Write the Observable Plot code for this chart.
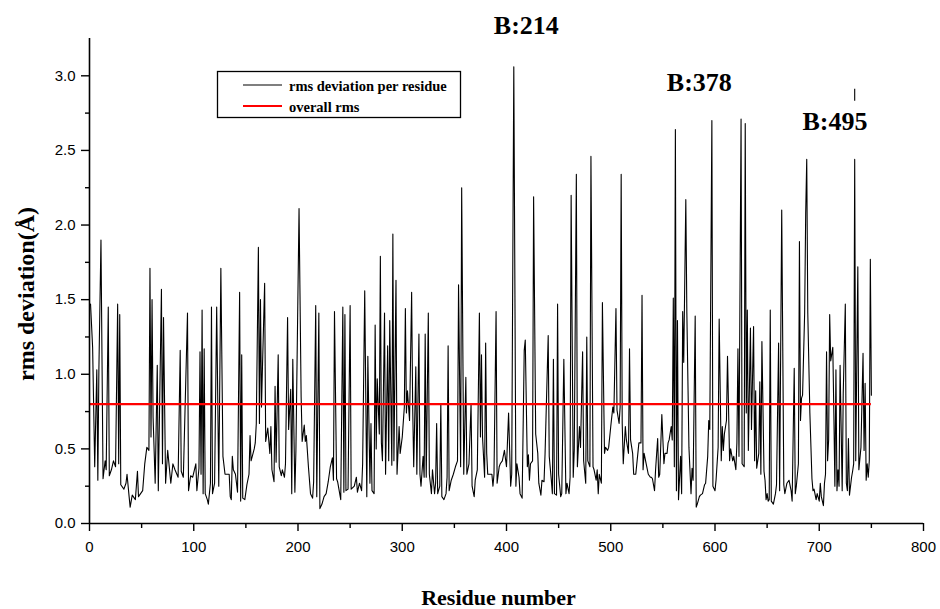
<!DOCTYPE html>
<html>
<head>
<meta charset="utf-8">
<script src="https://cdn.jsdelivr.net/npm/d3@7"></script>
<script src="https://cdn.jsdelivr.net/npm/@observablehq/plot@0.6"></script>
<style>body{margin:0;background:#fff;}</style>
</head>
<body>
<div id="chart"></div>
<script>
// ---- data ----
const residue = [
1,3,5,7,8,9,11,13,15,16,18,19,21,23,25,27,28,29,30,33,35,36,38,39,41,44,46,47,51,53,55,57,58,59,60,61,63,65,66,69,70,71,73,75,78,80,82,85,87,88,90,94,95,97,99,102,103,105,106,107,108,109,110,111,113,114,116,117,118,120,122,124,126,128,130,134,135,
136,137,138,140,142,144,145,146,147,149,151,153,154,155,158,159,160,162,163,164,165,166,168,169,171,173,174,175,177,178,179,181,182,184,185,187,188,190,191,193,194,195,197,198,201,203,204,206,207,208,210,212,214,215,217,218,220,221,223,225,227,229,231,233,234,235,237,238,241,243,244,245,246,248,250,251,254,256,257,259,261,262,264,
266,267,269,270,271,273,274,275,276,278,279,280,281,283,284,286,287,288,290,291,292,294,295,297,298,300,302,303,304,305,307,309,310,311,313,314,316,317,318,320,321,322,323,325,326,328,329,331,332,333,334,336,337,338,340,342,343,344,345,347,349,351,353,354,356,357,359,361,362,364,366,367,369,370,372,374,375,376,377,379,380,381,382,384,386,387,388,390,391,393,394,396,398,400,402,
404,405,407,409,410,412,413,415,417,418,420,421,422,423,425,426,428,430,431,433,434,436,437,440,441,443,444,445,446,448,449,450,452,453,455,457,458,460,461,462,464,465,467,468,470,471,473,474,476,477,478,480,481,483,484,486,487,488,489,491,492,494,495,497,498,500,502,503,505,506,508,509,510,511,512,514,515,517,518,519,521,522,524,526,527,529,530,531,532,534,536,538,
539,540,542,543,545,546,547,549,551,552,554,555,556,558,559,560,561,562,563,564,565,567,568,569,570,572,573,575,577,578,579,581,582,583,585,586,588,590,591,593,594,595,597,598,600,601,603,604,606,607,608,609,611,612,614,615,617,618,620,621,622,623,625,626,628,629,630,631,632,634,635,637,638,639,640,642,643,644,645,647,648,649,650,651,652,653,654,656,658,659,661,662,664,666,667,
669,671,673,674,676,677,678,680,681,682,683,684,686,687,688,689,691,693,694,695,697,698,700,701,702,704,705,706,707,708,709,710,711,713,714,715,716,717,718,719,720,722,723,725,726,727,728,729,731,732,733,734,735,737,738,740,742,743,744,745,746,747,748,749,750
];
const rmsd = [
1.47,1.18,0.38,1.03,0.29,1.03,1.90,0.30,0.42,0.36,1.45,0.32,0.36,0.42,0.38,1.47,0.40,1.40,0.26,0.23,0.27,0.33,0.18,0.11,0.19,0.16,0.35,0.18,0.22,0.40,0.51,0.49,1.71,0.58,1.50,0.71,0.27,1.06,0.22,1.57,0.40,1.38,0.27,0.49,0.27,0.40,0.36,0.31,1.16,0.35,0.31,1.41,0.22,0.32,0.31,0.40,0.22,0.37,1.15,0.33,1.43,0.20,1.17,0.20,0.16,0.13,0.27,1.45,0.20,0.27,1.45,0.25,1.71,0.45,0.33,0.33,0.18,
0.16,0.45,0.36,0.33,0.21,1.55,0.15,1.13,0.17,0.16,0.26,0.33,0.59,0.42,0.50,0.54,0.67,1.85,0.67,1.50,0.78,1.07,1.61,0.55,0.64,0.47,0.65,0.36,0.28,0.92,0.41,1.13,0.38,0.32,0.36,0.31,0.40,1.38,0.63,0.90,0.20,1.10,0.21,0.49,2.11,0.85,0.55,0.66,0.55,0.59,0.38,0.20,0.17,0.28,1.46,0.18,1.41,0.10,0.13,0.18,0.20,0.28,0.38,0.44,0.29,1.42,0.30,0.28,0.16,1.45,0.21,1.40,0.22,0.23,1.46,0.23,0.25,0.31,0.21,0.27,0.22,0.40,1.56,
0.18,1.12,0.27,0.67,0.22,0.20,1.33,0.50,0.97,0.60,1.79,0.54,0.42,1.41,0.33,1.19,0.42,1.36,0.39,1.94,0.42,1.63,0.33,0.65,0.47,0.58,0.78,1.44,0.74,0.89,0.69,1.55,0.78,0.38,1.05,0.33,1.27,0.33,0.25,0.45,0.31,1.27,0.31,1.41,0.33,0.20,0.36,0.20,0.27,0.67,0.20,0.25,0.80,0.18,0.16,0.20,0.31,1.19,0.22,0.29,0.33,0.38,0.42,1.60,0.38,2.25,0.33,0.98,0.33,0.40,0.80,0.25,0.18,0.29,0.36,1.41,0.58,1.13,0.58,0.31,1.21,0.47,0.33,0.33,0.33,0.25,0.33,1.42,0.27,0.38,0.40,0.42,0.49,0.38,0.74,
0.25,0.33,3.06,0.25,0.40,0.31,0.20,0.17,1.16,1.23,0.38,0.46,0.29,0.40,0.42,2.19,0.60,0.47,0.27,0.19,0.29,0.28,0.47,1.26,0.45,0.29,0.20,1.10,0.20,0.19,1.47,0.33,0.18,0.20,1.10,0.20,0.27,0.20,0.31,2.20,0.31,0.49,2.34,0.38,0.65,0.51,1.15,0.42,0.27,1.25,0.42,0.38,2.46,0.38,0.36,0.29,0.36,0.20,0.33,0.27,1.48,0.47,0.51,0.49,0.51,0.65,0.78,0.74,1.44,0.76,0.67,0.78,2.34,0.67,0.40,0.65,0.56,0.47,1.17,0.56,0.47,0.33,0.33,0.47,0.54,0.54,1.53,0.36,0.47,0.40,0.33,0.31,
0.31,0.30,0.22,0.36,0.57,0.31,0.33,0.73,0.40,0.47,0.47,0.54,0.56,0.65,0.56,1.51,0.38,2.64,0.22,1.36,0.16,0.45,0.20,1.42,1.08,2.17,1.41,0.51,0.20,0.37,0.29,1.39,0.11,0.13,0.18,0.19,0.20,0.26,0.27,0.45,0.69,0.63,2.70,0.25,0.22,0.29,0.51,1.37,0.42,0.65,0.49,0.60,0.69,1.12,0.42,0.50,0.42,0.45,0.36,0.54,1.17,0.45,2.71,0.40,0.38,2.68,0.74,1.43,0.49,1.31,0.63,1.32,0.42,0.89,0.37,0.47,0.95,0.33,1.22,0.35,0.29,0.16,0.20,0.15,0.16,1.43,0.15,0.13,0.20,0.26,1.21,0.22,2.10,0.26,0.20,
0.27,0.29,0.22,0.15,1.04,0.20,0.25,0.40,1.89,0.69,0.84,0.86,1.41,2.08,2.44,1.41,0.74,0.30,0.22,0.23,0.16,0.20,0.15,0.27,0.18,0.12,0.27,0.33,1.15,0.42,0.56,1.40,1.09,1.18,0.74,0.25,1.03,0.22,0.36,0.25,1.06,0.22,0.87,1.47,0.27,0.22,0.57,0.19,0.31,0.35,0.40,2.44,0.42,1.72,0.36,0.51,1.14,0.49,0.94,0.29,0.40,0.31,0.42,1.77,0.86
];
const overallRms = 0.80;
const overallRange = [0, 750];
const xMajorTicks = [0, 100, 200, 300, 400, 500, 600, 700, 800];
const xMinorTicks = [50, 150, 250, 350, 450, 550, 650, 750];
const yMajorTicks = [0, 0.5, 1.0, 1.5, 2.0, 2.5, 3.0];
const yMinorTicks = [0.25, 0.75, 1.25, 1.75, 2.25, 2.75];
const peakLabels = ["B:214", "B:378", "B:495"];
const peakLabelResidue = [419, 585, 715];
const peakLabelValue = [3.28, 2.90, 2.64];
const strayMarkResidue = [734];
const strayMarkLow = [2.83];
const strayMarkHigh = [2.91];
const seriesNames = ["rms deviation per residue", "overall rms"];
const seriesColors = ["#000000", "#ff0000"];
const xTitle = "Residue number";
const yTitle = "rms deviation(Å)";

const serif = "'Liberation Serif', 'Times New Roman', serif";

const plot = Plot.plot({
  width: 940,
  height: 609,
  marginLeft: 89,
  marginRight: 17,
  marginTop: 38,
  marginBottom: 86,
  x: {domain: [0, 800]},
  y: {domain: [0, 3.25]},
  style: {fontFamily: "'Liberation Sans', Arial, sans-serif", fontSize: "15px", color: "black", background: "white", overflow: "visible"},
  marks: [
    Plot.line(residue, {x: residue, y: rmsd, stroke: seriesColors[0], strokeWidth: 1.1}),
    Plot.ruleY([overallRms], {x1: overallRange[0], x2: overallRange[1], stroke: seriesColors[1], strokeWidth: 2.2}),
    Plot.ruleX(strayMarkResidue, {y1: strayMarkLow, y2: strayMarkHigh, stroke: "black", strokeWidth: 1.1}),
    Plot.ruleX([0], {stroke: "black", strokeWidth: 1.6}),
    Plot.ruleY([0], {stroke: "black", strokeWidth: 1.6}),
    Plot.axisX(xMajorTicks, {tickSize: 8, tickPadding: 10, tickFormat: d => String(d), label: null, strokeWidth: 1.4, fontSize: 15}),
    Plot.axisX(xMinorTicks, {tickSize: 5, tickFormat: () => "", label: null, strokeWidth: 1.4}),
    Plot.axisY(yMajorTicks, {tickSize: 8, tickPadding: 6, tickFormat: d => d.toFixed(1), label: null, strokeWidth: 1.4, fontSize: 15}),
    Plot.axisY(yMinorTicks, {tickSize: 4, tickFormat: () => "", label: null, strokeWidth: 1.4}),
    Plot.text(peakLabels, {x: peakLabelResidue, y: peakLabelValue, text: d => d, fontFamily: serif, fontWeight: "bold", fontSize: 26, lineAnchor: "bottom", textAnchor: "middle", fill: "black"}),
    Plot.text([xTitle], {frameAnchor: "bottom", dx: -8, dy: 81, text: d => d, lineAnchor: "bottom", fontFamily: serif, fontWeight: "bold", fontSize: 22, fill: "black"}),
    Plot.text([yTitle], {frameAnchor: "left", dx: -56, dy: 13, rotate: -90, text: d => d, lineAnchor: "bottom", textAnchor: "middle", fontFamily: serif, fontWeight: "bold", fontSize: 24, fill: "black"})
  ]
});

document.getElementById("chart").appendChild(plot);

// legend box
const svg = d3.select(plot);
const lg = svg.append("g").attr("text-anchor", "start");
lg.append("rect").attr("x", 217.5).attr("y", 71.5).attr("width", 243).attr("height", 46)
  .attr("fill", "white").attr("stroke", "black").attr("stroke-width", 1.3);
seriesNames.forEach((name, i) => {
  const y = 85 + i * 21;
  lg.append("line").attr("x1", 243).attr("x2", 282).attr("y1", y).attr("y2", y)
    .attr("stroke", seriesColors[i]).attr("stroke-width", i === 0 ? 1.1 : 2);
  lg.append("text").attr("x", 289).attr("y", y + 5.5).text(name)
    .attr("text-anchor", "start")
    .attr("font-family", serif).attr("font-weight", "bold").attr("font-size", 14.5).attr("fill", "black");
});
</script>
</body>
</html>
